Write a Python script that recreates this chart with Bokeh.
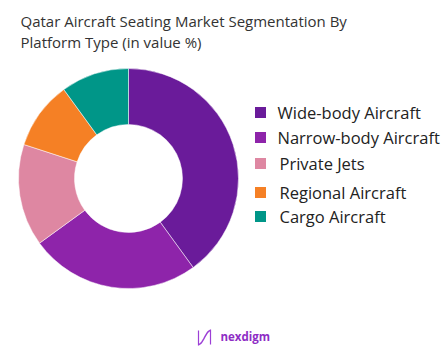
import math
from bokeh.plotting import figure
from bokeh.models import Range1d, ColumnDataSource
from bokeh.core.properties import value
from bokeh.embed import file_html
from bokeh.resources import INLINE

title_lines = ["Qatar Aircraft Seating Market Segmentation By", "Platform Type (in value %)"]
categories = ["Wide-body Aircraft", "Narrow-body Aircraft", "Private Jets", "Regional Aircraft", "Cargo Aircraft"]
shares = [40, 25, 15, 10, 10]
colors = ["#6A1B9A", "#8E24AA", "#DE87A2", "#F58025", "#009688"]

W, H = 447, 358
p = figure(width=W, height=H, output_backend="svg", toolbar_location=None,
           x_range=Range1d(0, W), y_range=Range1d(0, H), min_border=0)
p.axis.visible = False
p.grid.visible = False
p.outline_line_color = None
p.background_fill_color = "white"
p.border_fill_color = "white"


def Y(py):
    return H - py


# donut
total = sum(shares)
cum = 0.0
starts, ends = [], []
for s in shares:
    a0 = math.pi / 2 - 2 * math.pi * (cum + s) / total
    a1 = math.pi / 2 - 2 * math.pi * cum / total
    starts.append(a0)
    ends.append(a1)
    cum += s
src = ColumnDataSource(dict(start=starts, end=ends, color=colors, cat=categories))
cx, cy = 128, Y(178)
p.annular_wedge(x=cx, y=cy, inner_radius=54, outer_radius=110,
                inner_radius_units="screen", outer_radius_units="screen",
                start_angle="start", end_angle="end", color="color",
                line_color="white", line_width=0.5, source=src)

# title
p.text(x=[20, 20], y=[Y(20), Y(41)], text=title_lines, text_font=value("Open Sans"),
       text_font_size="15px", text_color="#333333", text_baseline="middle")

# legend
ly = [Y(v) for v in (112, 137, 163, 192, 216)]
lx = [277, 277, 279, 279, 279]
p.rect(x=[260] * 5, y=ly, width=11, height=11, fill_color=colors, line_color=None)
p.text(x=lx, y=ly, text=categories, text_font=value("Open Sans"),
       text_font_size="16.5px", text_color="#222222", text_baseline="middle")

# logo
p.text(x=[220], y=[Y(336)], text=["nexdigm"], text_font=value("Open Sans"), text_font_style="bold",
       text_font_size="11.5px", text_color="#8E2DC5", text_baseline="middle")
t = [i / 20 for i in range(21)]
p.line(x=[198 + 12 * u for u in t], y=[Y(337) - 7 * math.cos(math.pi * u) for u in t],
       line_color="#9C3FD6", line_width=1.5)
p.line(x=[198, 198], y=[Y(330), Y(345)], line_color="#9C3FD6", line_width=1.2)
p.line(x=[210, 210], y=[Y(329), Y(344)], line_color="#9C3FD6", line_width=1.2)

open("out.html", "w").write(file_html(p, INLINE))
